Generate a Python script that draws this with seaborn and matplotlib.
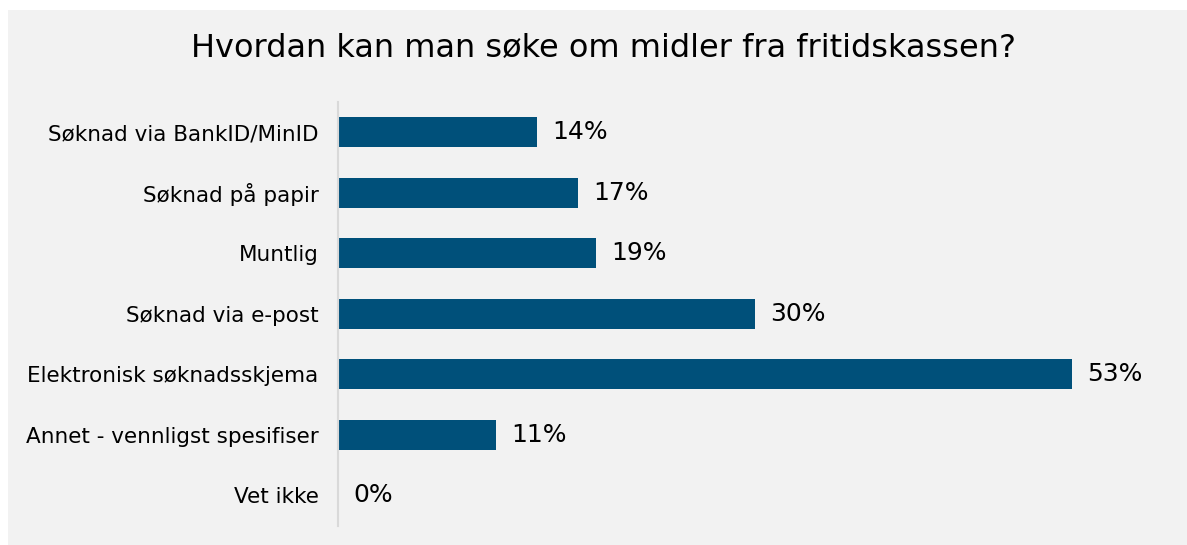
import matplotlib
matplotlib.use("Agg")
import matplotlib.pyplot as plt
import seaborn as sns
import pandas as pd

categories = ["Søknad via BankID/MinID", "Søknad på papir", "Muntlig",
              "Søknad via e-post", "Elektronisk søknadsskjema",
              "Annet - vennligst spesifiser", "Vet ikke"]
values = [14.4, 17.3, 18.6, 30.1, 53.0, 11.4, 0.0]
title = "Hvordan kan man søke om midler fra fritidskassen?"

df = pd.DataFrame({"cat": categories, "val": values})

sns.set_theme(style="white")
plt.rcParams['font.family'] = ['DejaVu Sans']

fig = plt.figure(figsize=(11.87, 5.45), dpi=100)
fig.patch.set_facecolor("white")
bg = plt.Rectangle((8 / 1187, 0), 1, 1 - 10 / 545, transform=fig.transFigure,
                   facecolor="#f2f2f2", edgecolor="none", zorder=-10)
fig.patches.append(bg)

ax = fig.add_axes([338 / 1187, 1 - 525.5 / 545, 831 / 1187, 423.5 / 545])
ax.set_facecolor("none")
sns.barplot(data=df, y="cat", x="val", orient="h", color="#00507a",
            saturation=1, width=0.5, linewidth=0, ax=ax)
ax.set_xlim(0, 60)
ax.set_ylim(6.5, -0.5)
ax.set_xlabel("")
ax.set_ylabel("")
ax.set_xticks([])
for s in ["top", "right", "bottom"]:
    ax.spines[s].set_visible(False)
ax.spines["left"].set_color("#d9d9d9")
ax.spines["left"].set_linewidth(1.5)
ax.tick_params(axis="y", length=0, pad=14, labelsize=15.5, labelcolor="#000000")

for i, v in enumerate(values):
    ax.text(v + 1.1, i, f"{v:.0f}%", va="center", ha="left", fontsize=18, color="#000000")

fig.text(604 / 1187, 1 - 48 / 545, title, ha="center", va="center", fontsize=23, color="#000000")

fig.savefig("out.png", dpi=100, facecolor=fig.get_facecolor())
